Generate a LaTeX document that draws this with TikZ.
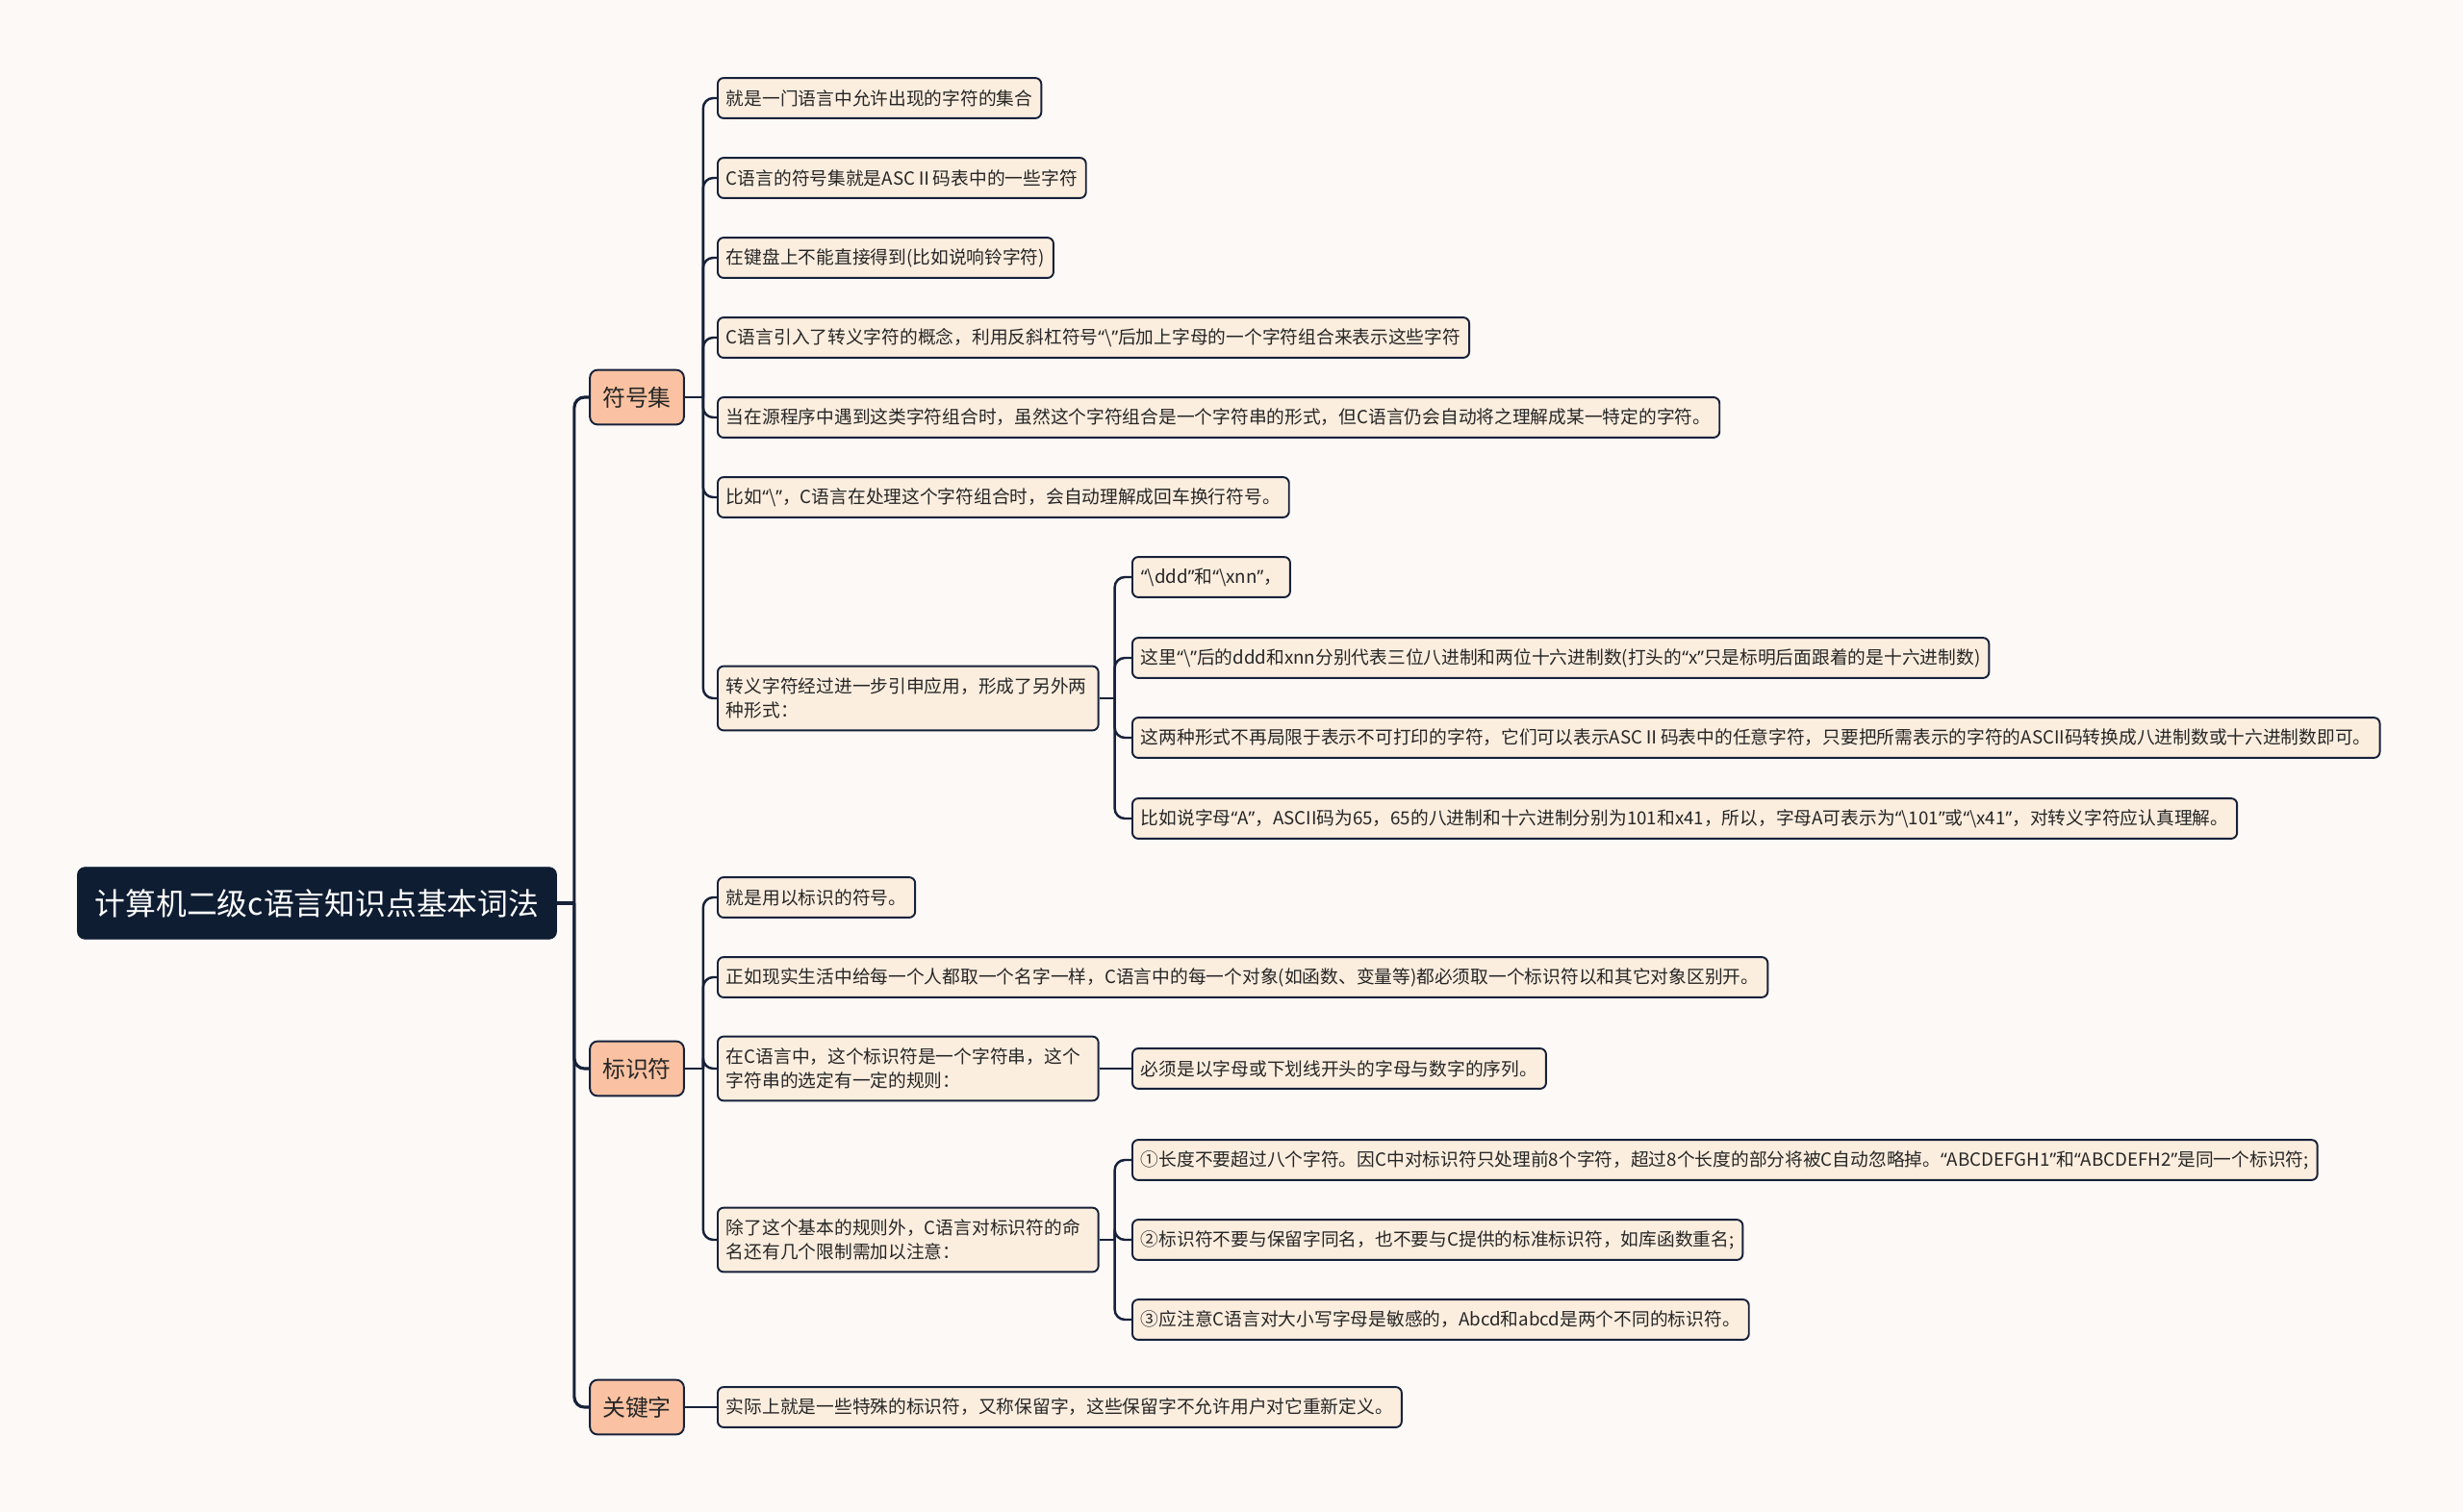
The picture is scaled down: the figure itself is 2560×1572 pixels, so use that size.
\documentclass[tikz,border=0pt]{standalone}
\usepackage{fontspec}
\setmainfont{Noto Sans CJK SC}
\newfontfamily\latinq{Noto Sans}
\newcommand\qo{{\latinq “}}
\newcommand\qc{{\latinq ”}}
\usetikzlibrary{positioning}
\definecolor{bgc}{HTML}{FDF9F6}
\definecolor{rootc}{HTML}{0F1D33}
\definecolor{linec}{HTML}{16213A}
\definecolor{topicc}{HTML}{FAC2A2}
\definecolor{leafc}{HTML}{FCEEDF}
\tikzset{
  rootbox/.style={draw=rootc, fill=rootc, text=white, rounded corners=4.5pt,
    minimum width=283.5pt, minimum height=42.5pt, font=\fontsize{18.1pt}{20pt}\selectfont},
  topic/.style={draw=linec, line width=1.1pt, fill=topicc, rounded corners=4.5pt,
    minimum width=55.6pt, minimum height=32.3pt, inner sep=0pt, text=black!85,
    font=\fontsize{13.6pt}{16pt}\selectfont},
  leaf/.style={draw=linec, line width=1.1pt, fill=leafc, rounded corners=3.5pt,
    minimum height=23.8pt, inner xsep=5.1pt, inner ysep=0pt, text=black!85,
    font=\fontsize{10.66pt}{13.9pt}\selectfont, anchor=west},
  leaftwo/.style={leaf, text width=215pt, align=left, minimum height=38pt},
  link/.style={draw=linec, line width=1.4pt, rounded corners=6pt},
  rootlink/.style={link, line width=1.8pt},
}
\begin{document}
\begin{tikzpicture}[x=0.02cm,y=-0.02cm]
  \fill[bgc] (0,0) rectangle (2560,1572);
  \useasboundingbox (0,0) rectangle (2560,1572);

  \node[rootbox] (root) at (329.5,939) {计算机二级c语言知识点基本词法};
  \node[topic] (symset) at (662,413) {符号集};
  \node[topic] (ident) at (662,1111) {标识符};
  \node[topic] (keyword) at (662,1463) {关键字};

  \node[leaf] (s1) at (745,102) {就是一门语言中允许出现的字符的集合};
  \node[leaf] (s2) at (745,185) {C语言的符号集就是ASCⅡ码表中的一些字符};
  \node[leaf] (s3) at (745,268) {在键盘上不能直接得到(比如说响铃字符)};
  \node[leaf] (s4) at (745,351) {C语言引入了转义字符的概念，利用反斜杠符号\qo\textbackslash\qc 后加上字母的一个字符组合来表示这些字符};
  \node[leaf] (s5) at (745,434) {当在源程序中遇到这类字符组合时，虽然这个字符组合是一个字符串的形式，但C语言仍会自动将之理解成某一特定的字符。};
  \node[leaf] (s6) at (745,517) {比如\qo\textbackslash\qc ，C语言在处理这个字符组合时，会自动理解成回车换行符号。};
  \node[leaftwo] (s7) at (745,726) {转义字符经过进一步引申应用，形成了另外两\\种形式：};

  \node[leaf] (e1) at (1176,600) {\qo\textbackslash ddd\qc 和\qo\textbackslash xnn\qc ，};
  \node[leaf] (e2) at (1176,684) {这里\qo\textbackslash\qc 后的ddd和xnn分别代表三位八进制和两位十六进制数(打头的\qo x\qc 只是标明后面跟着的是十六进制数)};
  \node[leaf] (e3) at (1176,767) {这两种形式不再局限于表示不可打印的字符，它们可以表示ASCⅡ码表中的任意字符，只要把所需表示的字符的ASCII码转换成八进制数或十六进制数即可。};
  \node[leaf] (e4) at (1176,851) {比如说字母\qo A\qc ，ASCII码为65，65的八进制和十六进制分别为101和x41，所以，字母A可表示为\qo\textbackslash 101\qc 或\qo\textbackslash x41\qc ，对转义字符应认真理解。};

  \node[leaf] (i1) at (745,933) {就是用以标识的符号。};
  \node[leaf] (i2) at (745,1016) {正如现实生活中给每一个人都取一个名字一样，C语言中的每一个对象(如函数、变量等)都必须取一个标识符以和其它对象区别开。};
  \node[leaftwo] (i3) at (745,1111) {在C语言中，这个标识符是一个字符串，这个\\字符串的选定有一定的规则：};
  \node[leaftwo] (i4) at (745,1289) {除了这个基本的规则外，C语言对标识符的命\\名还有几个限制需加以注意：};

  \node[leaf] (r1) at (1176,1111) {必须是以字母或下划线开头的字母与数字的序列。};
  \node[leaf] (n1) at (1176,1206) {①长度不要超过八个字符。因C中对标识符只处理前8个字符，超过8个长度的部分将被C自动忽略掉。\qo ABCDEFGH1\qc 和\qo ABCDEFH2\qc 是同一个标识符;};
  \node[leaf] (n2) at (1176,1289) {②标识符不要与保留字同名，也不要与C提供的标准标识符，如库函数重名;};
  \node[leaf] (n3) at (1176,1372) {③应注意C语言对大小写字母是敏感的，Abcd和abcd是两个不同的标识符。};

  \node[leaf] (k1) at (745,1463) {实际上就是一些特殊的标识符，又称保留字，这些保留字不允许用户对它重新定义。};

  \draw[rootlink] (root.east) -- ++(18,0);
  \foreach \t in {symset,ident,keyword}
    \draw[rootlink] (root.east) ++(18,0) |- (\t.west);

  \draw[link] (symset.east) -- ++(19,0);
  \foreach \c in {s1,s2,s3,s4,s5,s6,s7}
    \draw[link] (symset.east) ++(19,0) |- (\c.west);

  \draw[link] (s7.east) -- ++(16,0);
  \foreach \c in {e1,e2,e3,e4}
    \draw[link] (s7.east) ++(16,0) |- (\c.west);

  \draw[link] (ident.east) -- ++(19,0);
  \foreach \c in {i1,i2,i3,i4}
    \draw[link] (ident.east) ++(19,0) |- (\c.west);

  \draw[link] (i3.east) -- (r1.west);

  \draw[link] (i4.east) -- ++(16,0);
  \foreach \c in {n1,n2,n3}
    \draw[link] (i4.east) ++(16,0) |- (\c.west);

  \draw[link] (keyword.east) -- (k1.west);
\end{tikzpicture}
\end{document}
